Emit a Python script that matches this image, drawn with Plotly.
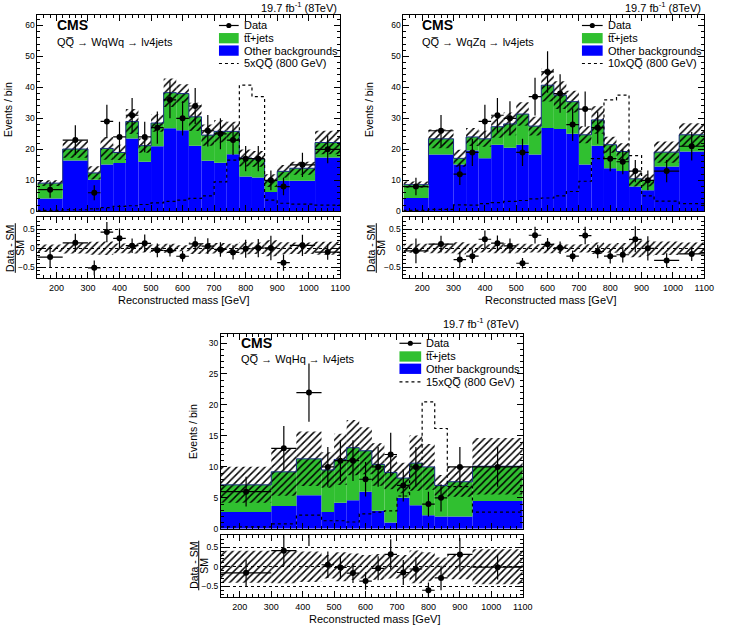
import plotly.graph_objects as go

W, H = 732, 636

# ---------------- data ----------------
edges_a = [140, 220, 300, 340, 380, 420, 460, 500, 540, 580, 620, 660, 700, 740, 780, 820, 860, 900, 940, 1020, 1100]
edges_h = [140, 300, 380, 460, 500, 540, 580, 620, 660, 700, 740, 780, 820, 860, 940, 1100]

# WqWq
other_ww = [4.1, 16.4, 10.2, 15.1, 15.6, 23.5, 16.0, 21.0, 26.8, 26.2, 21.2, 16.3, 15.7, 18.4, 11.2, 10.9, 6.2, 9.9, 9.9, 17.4]
ttbar_ww = [5.0, 3.7, 2.2, 5.2, 3.4, 5.5, 5.2, 7.5, 11.5, 11.8, 9.3, 8.3, 10.1, 7.4, 6.0, 6.0, 3.7, 3.0, 4.0, 4.8]
data_ww = [7, 23, 6, 29, 24, 31, 24, 27, 36, 30, 34, 26, 25, 23, 17, 17, 10, 8, 15, 20]
derr_ww = [2.6, 4.8, 2.4, 5.4, 4.9, 5.6, 4.9, 5.2, 6.0, 5.5, 5.8, 5.1, 5.0, 4.8, 4.1, 4.1, 3.2, 2.8, 3.9, 4.5]
unc_ww = [0.10, 0.14, 0.17, 0.18, 0.13, 0.14, 0.11, 0.10, 0.12, 0.08, 0.15, 0.14, 0.14, 0.12, 0.16, 0.15, 0.21, 0.16, 0.15, 0.17]
sig_ww = [0.3, 0.5, 0.8, 1.2, 1.6, 1.8, 2.2, 2.7, 3.2, 3.6, 4.2, 5.0, 9.5, 16.5, 40.7, 37.0, 3.6, 2.6, 2.3, 2.0]

# WqZq
other_wz = [4.3, 18.3, 15.1, 19.6, 17.1, 21.5, 20.5, 21.5, 18.3, 26.9, 26.6, 25.0, 15.1, 21.2, 13.9, 13.0, 8.0, 6.8, 14.5, 19.3]
ttbar_wz = [4.3, 5.1, 2.0, 4.4, 6.3, 5.8, 7.7, 9.9, 9.2, 13.8, 10.9, 10.4, 9.6, 8.3, 7.6, 6.3, 2.5, 3.2, 4.6, 5.4]
data_wz = [8, 26, 12, 19, 29, 31, 30, 19, 37, 45, 38, 28, 33, 27, 17, 16, 13, 10, 13, 21]
derr_wz = [2.8, 5.1, 3.5, 4.4, 5.4, 5.6, 5.5, 4.4, 6.1, 6.7, 6.2, 5.3, 5.7, 5.2, 4.1, 4.0, 3.6, 3.2, 3.6, 4.6]
unc_wz = [0.12, 0.13, 0.16, 0.12, 0.11, 0.13, 0.13, 0.12, 0.11, 0.13, 0.12, 0.10, 0.11, 0.15, 0.12, 0.14, 0.24, 0.20, 0.18, 0.15]
sig_wz = [0.3, 0.6, 2.1, 2.0, 2.5, 2.8, 3.2, 3.5, 4.0, 4.3, 5.0, 6.4, 9.7, 17.0, 36.0, 37.5, 18.0, 5.0, 3.3, 2.5]

# WqHq
other_wh = [2.7, 3.7, 5.4, 2.7, 4.2, 4.6, 6.0, 2.9, 1.0, 5.0, 3.8, 2.2, 2.0, 2.0, 4.5]
ttbar_wh = [4.4, 5.5, 5.9, 6.8, 7.0, 8.5, 6.6, 7.5, 8.1, 3.2, 6.8, 7.8, 5.0, 5.6, 5.6]
data_wh = [6, 13, 22, 10, 11, 11, 8, 10, 12, 7, 10, 4, 5, 10, 10]
derr_wh = [2.4, 3.6, 4.7, 3.2, 3.3, 3.3, 2.8, 3.2, 3.5, 2.6, 3.2, 2.0, 2.2, 3.2, 3.2]
unc_wh = [0.41, 0.42, 0.39, 0.30, 0.37, 0.34, 0.30, 0.33, 0.30, 0.30, 0.42, 0.37, 0.24, 0.32, 0.45]
sig_wh = [0.3, 0.8, 2.2, 1.3, 1.3, 1.1, 2.4, 2.7, 2.9, 5.3, 10.3, 20.5, 16.2, 6.8, 2.7]

x_ticks = [200, 300, 400, 500, 600, 700, 800, 900, 1000, 1100]

GREEN = '#30c030'
BLUE = '#0000ff'
FONT = 'Liberation Sans, Arial, sans-serif'
QQ = 'QQ\u0305'

def px(x):
    return x / W

def py(y):
    return 1 - y / H

panels = [
    dict(edges=edges_a, other=other_ww, ttbar=ttbar_ww, data=data_ww, derr=derr_ww, unc=unc_ww, sig=sig_ww,
         frame=(38, 345, 15, 213, 219, 280), ymax=63.4, dt=10, mdt=2,
         sub=QQ + ' \u2192 WqWq \u2192 lv4jets', sigl='5x' + QQ + ' (800 GeV)',
         lumi=(344, 7), cms=(56, 25), subp=(56, 42), leg=(222, 242, 245, [25.7, 38.5, 51, 64]),
         ytit=(8, 110), rt=(10, 15.5, 20, 250), xt=(186, 302)),
    dict(edges=edges_a, other=other_wz, ttbar=ttbar_wz, data=data_wz, derr=derr_wz, unc=unc_wz, sig=sig_wz,
         frame=(409, 714, 15, 213, 219, 280), ymax=63.4, dt=10, mdt=2,
         sub=QQ + ' \u2192 WqZq \u2192 lv4jets', sigl='10x' + QQ + ' (800 GeV)',
         lumi=(713, 7), cms=(426, 25), subp=(426, 42), leg=(590, 611, 614, [25.7, 38.5, 51, 64]),
         ytit=(374, 110), rt=(376, 381.5, 386, 250), xt=(558, 302)),
    dict(edges=edges_h, other=other_wh, ttbar=ttbar_wh, data=data_wh, derr=derr_wh, unc=unc_wh, sig=sig_wh,
         frame=(224, 530, 337, 533, 539, 602), ymax=31.4, dt=5, mdt=1,
         sub=QQ + ' \u2192 WqHq \u2192 lv4jets', sigl='15x' + QQ + ' (800 GeV)',
         lumi=(528, 326), cms=(242, 346), subp=(242, 362), leg=(405, 427, 430, [346, 359.3, 371.7, 385]),
         ytit=(195, 435), rt=(196, 201.5, 206, 570), xt=(380, 624)),
]

fig = go.Figure()
layout = dict(width=W, height=H, margin=dict(l=0, r=0, t=0, b=0), autosize=False,
              plot_bgcolor='white', paper_bgcolor='white', showlegend=False,
              barmode='overlay', font=dict(family=FONT, color='black'))
shapes = []
annotations = []

HATCH = dict(shape='/', fillmode='replace', size=5, solidity=0.3, fgcolor='black', bgcolor='rgba(0,0,0,0)')

def axis_common():
    return dict(showline=True, linecolor='black', linewidth=1, mirror='allticks', ticks='inside',
                tickcolor='black', zeroline=False, showgrid=False,
                tickfont=dict(size=8.5, family=FONT, color='black'))

for i, p in enumerate(panels):
    e = p['edges']
    n = len(e) - 1
    cen = [(e[k] + e[k + 1]) / 2 for k in range(n)]
    wid = [e[k + 1] - e[k] for k in range(n)]
    half = [w / 2 for w in wid]
    tot = [p['other'][k] + p['ttbar'][k] for k in range(n)]
    xm, ym = 'x%d' % (2 * i + 1), 'y%d' % (2 * i + 1)
    xr, yr = 'x%d' % (2 * i + 2), 'y%d' % (2 * i + 2)
    xl0, xl1, yt, yb, rtop, rbot = p['frame']

    # main stack
    fig.add_trace(go.Bar(x=cen, y=p['other'], base=[0] * n, width=wid, xaxis=xm, yaxis=ym,
                         marker=dict(color=BLUE, line=dict(width=0))))
    fig.add_trace(go.Bar(x=cen, y=p['ttbar'], base=p['other'], width=wid, xaxis=xm, yaxis=ym,
                         marker=dict(color=GREEN, line=dict(width=0))))
    fig.add_trace(go.Scatter(x=e, y=tot + [tot[-1]], mode='lines', line=dict(color='#1a2a80', width=1, shape='hv'),
                             xaxis=xm, yaxis=ym))
    # uncertainty hatch
    fig.add_trace(go.Bar(x=cen, y=[2 * tot[k] * p['unc'][k] for k in range(n)],
                         base=[tot[k] * (1 - p['unc'][k]) for k in range(n)], width=wid, xaxis=xm, yaxis=ym,
                         marker=dict(color='black', line=dict(width=0), pattern=HATCH)))
    # signal
    fig.add_trace(go.Scatter(x=e, y=p['sig'] + [p['sig'][-1]], mode='lines',
                             line=dict(color='black', width=1.2, dash='dot', shape='hv'), xaxis=xm, yaxis=ym))
    # data
    fig.add_trace(go.Scatter(x=cen, y=p['data'], mode='markers', marker=dict(color='black', size=6),
                             error_y=dict(type='data', array=p['derr'], color='black', thickness=1.2, width=0),
                             error_x=dict(type='data', array=half, color='black', thickness=1.2, width=0),
                             xaxis=xm, yaxis=ym))

    # ratio band
    fig.add_trace(go.Bar(x=cen, y=[2 * u for u in p['unc']], base=[-u for u in p['unc']], width=wid,
                         xaxis=xr, yaxis=yr,
                         marker=dict(color='black', line=dict(width=0), pattern=HATCH)))
    ratio = [(p['data'][k] - tot[k]) / tot[k] for k in range(n)]
    rerr = [p['derr'][k] / tot[k] for k in range(n)]
    fig.add_trace(go.Scatter(x=cen, y=ratio, mode='markers', marker=dict(color='black', size=6),
                             error_y=dict(type='data', array=rerr, color='black', thickness=1.2, width=0),
                             error_x=dict(type='data', array=half, color='black', thickness=1.2, width=0),
                             xaxis=xr, yaxis=yr))

    dom_x = [px(xl0), px(xl1)]
    layout['xaxis%d' % (2 * i + 1)] = dict(axis_common(), domain=dom_x, range=[140, 1100], tickvals=x_ticks,
                                            showticklabels=False, ticklen=6, anchor=ym,
                                            minor=dict(ticks='inside', ticklen=3, dtick=20, tick0=0, tickcolor='black'))
    layout['yaxis%d' % (2 * i + 1)] = dict(axis_common(), domain=[py(yb), py(yt)], range=[0, p['ymax']],
                                            dtick=p['dt'], tick0=0, ticklen=6, anchor=xm,
                                            minor=dict(ticks='inside', ticklen=3, dtick=p['mdt'], tick0=0, tickcolor='black'))
    xr_ax = dict(axis_common(), domain=dom_x, range=[140, 1100], tickvals=x_ticks,
                 ticklen=6, anchor=yr, ticklabelstandoff=1,
                 minor=dict(ticks='inside', ticklen=3, dtick=20, tick0=0, tickcolor='black'))
    xr_ax['tickfont'] = dict(size=9, family=FONT, color='black')
    layout['xaxis%d' % (2 * i + 2)] = xr_ax
    layout['yaxis%d' % (2 * i + 2)] = dict(axis_common(), domain=[py(rbot), py(rtop)], range=[-0.78, 0.82],
                                            tickvals=[-0.5, 0, 0.5], ticktext=['\u22120.5', '0', '0.5'],
                                            ticklen=6, anchor=xr,
                                            showgrid=True, gridcolor='black', griddash='dot', gridwidth=0.8,
                                            minor=dict(ticks='inside', ticklen=3, dtick=0.1, tick0=0, tickcolor='black'))

    # texts
    lx, ly = p['lumi']
    annotations.append(dict(x=px(lx), y=py(ly), xref='paper', yref='paper', xanchor='right', yanchor='middle',
                            text='19.7 fb<sup>-1</sup> (8TeV)', showarrow=False, font=dict(size=11, family=FONT)))
    cx, cy = p['cms']
    annotations.append(dict(x=px(cx), y=py(cy), xref='paper', yref='paper', xanchor='left', yanchor='middle',
                            text='<b>CMS</b>', showarrow=False, font=dict(size=14, family=FONT)))
    sx, sy = p['subp']
    annotations.append(dict(x=px(sx), y=py(sy), xref='paper', yref='paper', xanchor='left', yanchor='middle',
                            text=p['sub'], showarrow=False, font=dict(size=11, family=FONT)))
    # legend
    bx0, bx1, tx, rows = p['leg']
    labels = ['Data', 'tt\u0305+jets', 'Other backgrounds', p['sigl']]
    for r, lab in zip(rows, labels):
        annotations.append(dict(x=px(tx), y=py(r), xref='paper', yref='paper', xanchor='left', yanchor='middle',
                                text=lab, showarrow=False, font=dict(size=11, family=FONT)))
    mx = (bx0 + bx1) / 2
    shapes.append(dict(type='line', xref='paper', yref='paper', x0=px(bx0), x1=px(bx1), y0=py(rows[0]), y1=py(rows[0]),
                       line=dict(color='black', width=1.2)))
    shapes.append(dict(type='circle', xref='paper', yref='paper', x0=px(mx - 2.6), x1=px(mx + 2.6),
                       y0=py(rows[0] + 2.6), y1=py(rows[0] - 2.6), fillcolor='black', line=dict(width=0)))
    for r, col in ((rows[1], GREEN), (rows[2], BLUE)):
        shapes.append(dict(type='rect', xref='paper', yref='paper', x0=px(bx0), x1=px(bx1),
                           y0=py(r + 5.2), y1=py(r - 5.2), fillcolor=col, line=dict(width=0)))
    shapes.append(dict(type='line', xref='paper', yref='paper', x0=px(bx0), x1=px(bx1), y0=py(rows[3]), y1=py(rows[3]),
                       line=dict(color='black', width=1.2, dash='dot')))
    # axis titles
    yx, yy = p['ytit']
    annotations.append(dict(x=px(yx), y=py(yy), xref='paper', yref='paper', xanchor='center', yanchor='middle',
                            text='Events / bin', textangle=-90, showarrow=False, font=dict(size=10.5, family=FONT)))
    nx, lxx, dx, ry = p['rt']
    annotations.append(dict(x=px(nx), y=py(ry), xref='paper', yref='paper', xanchor='center', yanchor='middle',
                            text='Data - SM', textangle=-90, showarrow=False, font=dict(size=10.5, family=FONT)))
    annotations.append(dict(x=px(dx), y=py(ry), xref='paper', yref='paper', xanchor='center', yanchor='middle',
                            text='SM', textangle=-90, showarrow=False, font=dict(size=10.5, family=FONT)))
    shapes.append(dict(type='line', xref='paper', yref='paper', x0=px(lxx), x1=px(lxx), y0=py(ry - 25), y1=py(ry + 25),
                       line=dict(color='black', width=1)))
    xtx, xty = p['xt']
    annotations.append(dict(x=px(xtx), y=py(xty), xref='paper', yref='paper', xanchor='center', yanchor='middle',
                            text='Reconstructed mass [GeV]', showarrow=False, font=dict(size=11, family=FONT)))

layout['shapes'] = shapes
layout['annotations'] = annotations
fig.update_layout(**layout)
fig.write_html('out.html')
